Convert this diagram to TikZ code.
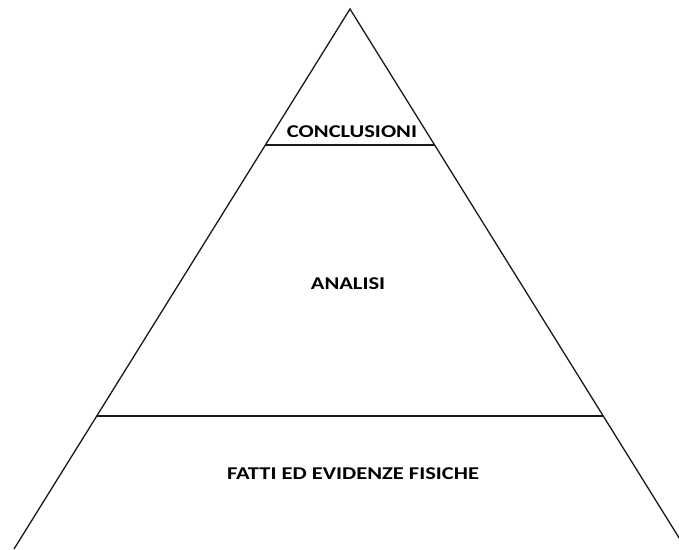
\documentclass[tikz,border=0pt]{standalone}
\usepackage{fontspec}
\setmainfont{Carlito}
\usetikzlibrary{calc}
\begin{document}
\begin{tikzpicture}[x=1pt,y=-1pt,
  tier/.style={font=\bfseries\fontsize{18}{20}\selectfont, inner sep=0pt, text=black},
  edge/.style={line width=1.3pt, black!90}]
\useasboundingbox (0,0) rectangle (679,549);
\clip (0,0) rectangle (679,549);
% pyramid outline
\coordinate (apex) at (350,9);
\coordinate (bl) at (14,549);
\coordinate (br) at (686,549);
\draw[edge] (bl) -- (apex) -- (br);
% dividing lines between the tiers
\coordinate (t1l) at ($(apex)!0.2519!(bl)$);
\coordinate (t1r) at ($(apex)!0.2519!(br)$);
\coordinate (t2l) at ($(apex)!0.7537!(bl)$);
\coordinate (t2r) at ($(apex)!0.7537!(br)$);
\draw[edge] (t1l) -- (t1r);
\draw[edge] (t2l) -- (t2r);
% tier labels
\node[tier] (conc) at (352,132) {\scalebox{1.25}[1]{CONCLUSIONI}};
\node[tier] (anal) at (348,284) {\scalebox{1.25}[1]{ANALISI}};
\node[tier] (fatti) at (353,474) {\scalebox{1.25}[1]{FATTI ED EVIDENZE FISICHE}};
\end{tikzpicture}
\end{document}
